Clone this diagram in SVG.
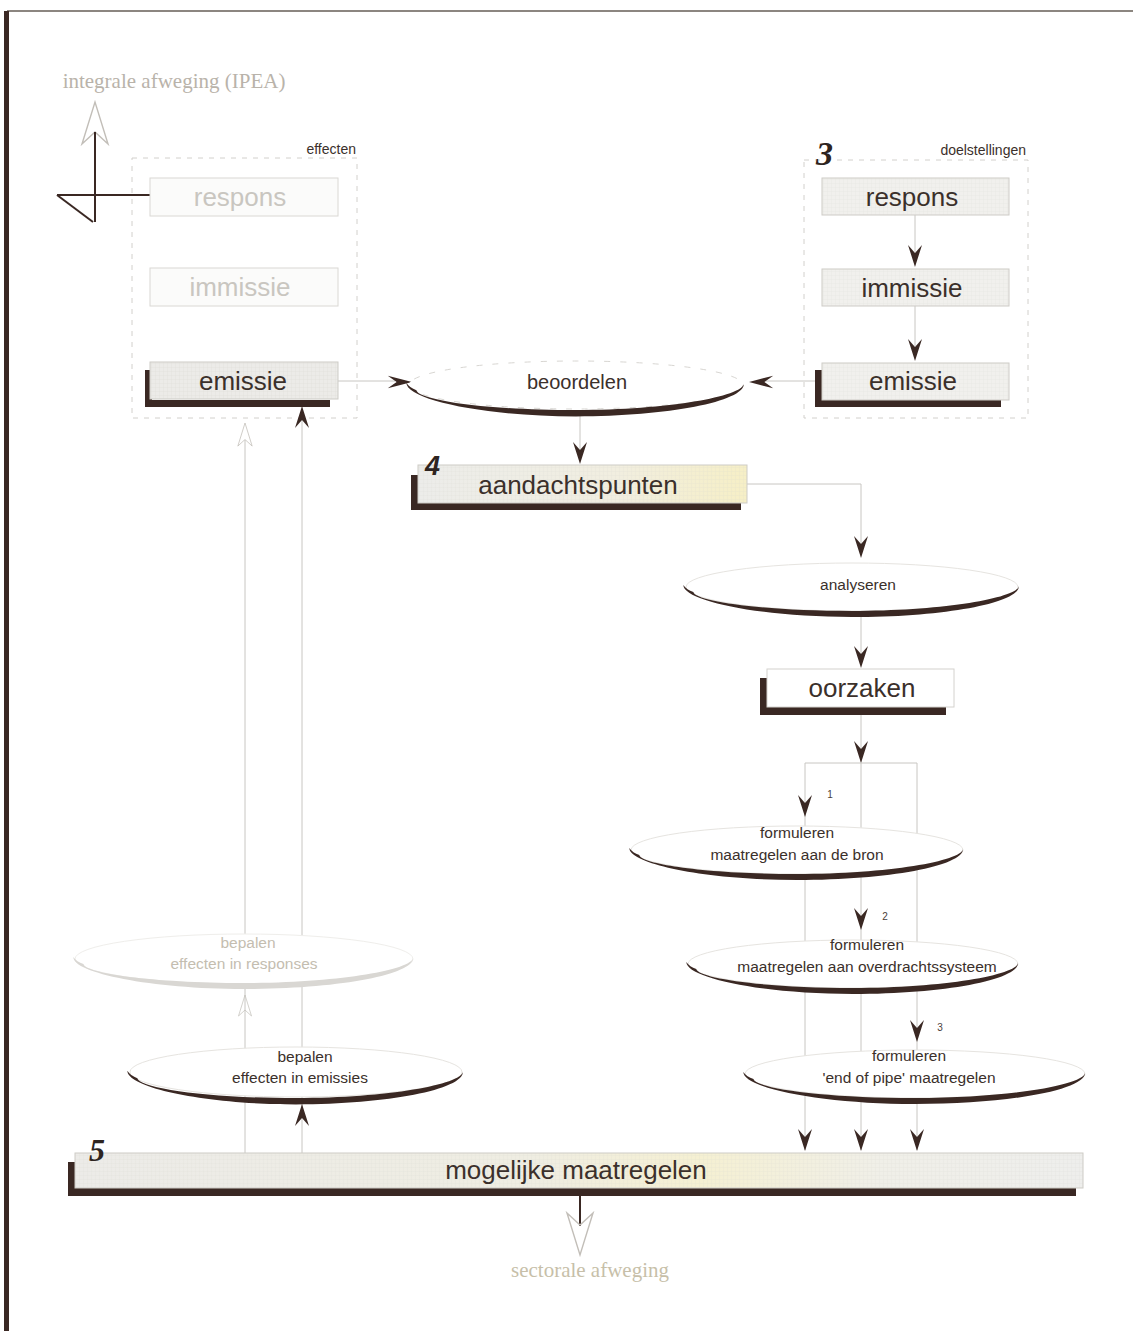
<svg xmlns="http://www.w3.org/2000/svg" xmlns:xlink="http://www.w3.org/1999/xlink" width="1133" height="1331" viewBox="0 0 1133 1331">
  <style>
    .box { stroke: #cdcbc6; stroke-width: 1; }
    .faint { fill: #ffffff; stroke: #e6e4e0; stroke-width: 1; }
    .shadow { fill: #3a2823; }
    .lbl { font-family: "Liberation Sans", Arial, sans-serif; fill: #3b302b; text-anchor: middle; }
    .big { font-size: 26px; }
    .mid { font-size: 15.5px; }
    .ghost { fill: #c9c6c0; }
    .serif { font-family: "Liberation Serif", "Times New Roman", serif; fill: #b9b3aa; text-anchor: middle; font-size: 21px; }
    .num { font-family: "Liberation Serif", "Times New Roman", serif; font-weight: bold; font-style: italic; fill: #2e2420; }
    .wire { stroke: #c8c6c2; stroke-width: 1; fill: none; }
    .dark { stroke: #3a2823; stroke-width: 2; fill: none; }
    .group { fill: none; stroke: #d2d0cc; stroke-width: 1; stroke-dasharray: 5 6; }
    .cres { fill: #3a2823; }
    .ghostcres { fill: #d9d7d3; }
    .idx { font-family: "Liberation Sans", Arial, sans-serif; font-size: 10px; fill: #4a403a; text-anchor: middle; }
  </style>
  <defs>
    <pattern id="grid" width="4" height="4" patternUnits="userSpaceOnUse">
      <path d="M4,0 V4 M0,4 H4" stroke="#d4d2cc" stroke-width="0.6" fill="none"/>
    </pattern>
    <linearGradient id="gAand" x1="0" y1="0" x2="1" y2="0">
      <stop offset="0" stop-color="#ececea"/>
      <stop offset="0.6" stop-color="#f1eee0"/>
      <stop offset="1" stop-color="#f6efc6"/>
    </linearGradient>
    <linearGradient id="gMog" x1="0" y1="0" x2="1" y2="0">
      <stop offset="0" stop-color="#ecebe8"/>
      <stop offset="0.45" stop-color="#efede2"/>
      <stop offset="0.62" stop-color="#f5f0d2"/>
      <stop offset="0.8" stop-color="#f0efe8"/>
      <stop offset="1" stop-color="#eeeeec"/>
    </linearGradient>
    <!-- solid notched arrowhead, tip at origin, pointing down -->
    <path id="ah" d="M0,0 L-7,-22 L0,-14 L7,-22 Z" fill="#3a2823"/>
    <!-- open outline arrowhead, tip at origin, pointing down -->
    <path id="hah" d="M-13,-42 L0,0 L13,-42 L0,-30 Z" fill="none" stroke="#c2beb8" stroke-width="1.4"/>
    <!-- lower shading crescent of an oval, half-width 100, left end at origin height -->
    <path id="cres" d="M-101,-4 C-101,12 -55,28 0,28 C55,28 100,14 100,-3 C99,9 55,22 0,22 C-55,22 -94,12 -95,3 Q-99,1 -101,-4 Z"/>
  </defs>

  <rect width="1133" height="1331" fill="#ffffff"/>

  <!-- page frame -->
  <line x1="7" y1="11" x2="1133" y2="11" stroke="#8c8680" stroke-width="2"/>
  <rect x="4" y="11" width="5" height="1320" fill="#3a2823"/>

  <!-- group frames -->
  <g id="grp-effecten">
    <rect class="group" x="132" y="158" width="225" height="260"/>
    <text class="lbl" x="356" y="154" font-size="14" style="text-anchor:end">effecten</text>
  </g>
  <g id="grp-doelstellingen">
    <rect class="group" x="804" y="160" width="224" height="258"/>
    <text class="lbl" x="1026" y="155" font-size="14" style="text-anchor:end">doelstellingen</text>
    <text class="num" x="816" y="165" font-size="34">3</text>
  </g>

  <!-- connectors -->
  <g id="connectors">
    <!-- upward feed to IPEA -->
    <use href="#hah" transform="translate(95,102) rotate(180)"/>
    <line class="dark" x1="95" y1="132" x2="95" y2="222"/>
    <line class="dark" x1="57" y1="195" x2="152" y2="195"/>
    <line class="dark" x1="57" y1="195" x2="93" y2="222"/>

    <!-- doelstellingen chain -->
    <line class="wire" x1="915" y1="215" x2="915" y2="252"/>
    <use href="#ah" transform="translate(915,267)"/>
    <line class="wire" x1="915" y1="306" x2="915" y2="346"/>
    <use href="#ah" transform="translate(915,361)"/>

    <!-- into beoordelen -->
    <line class="wire" x1="338" y1="381" x2="395" y2="381"/>
    <use href="#ah" transform="translate(412,382) rotate(-90) scale(0.9,1.1)"/>
    <line class="wire" x1="765" y1="381" x2="816" y2="381"/>
    <use href="#ah" transform="translate(749,382) rotate(90) scale(0.9,1.1)"/>

    <!-- beoordelen to aandachtspunten -->
    <line class="wire" x1="580" y1="414" x2="580" y2="450"/>
    <use href="#ah" transform="translate(580,464)"/>

    <!-- aandachtspunten to analyseren -->
    <polyline class="wire" points="747,484 861,484 861,545"/>
    <use href="#ah" transform="translate(861,558)"/>

    <!-- analyseren to oorzaken -->
    <line class="wire" x1="861" y1="615" x2="861" y2="655"/>
    <use href="#ah" transform="translate(861,668)"/>

    <!-- oorzaken to the three routes -->
    <line class="wire" x1="861" y1="715" x2="861" y2="1150"/>
    <use href="#ah" transform="translate(861,763)"/>
    <polyline class="wire" points="805,1150 805,763 917,763 917,1150"/>
    <use href="#ah" transform="translate(805,817)"/>
    <use href="#ah" transform="translate(861,930)"/>
    <use href="#ah" transform="translate(917,1042)"/>
    <use href="#ah" transform="translate(805,1151)"/>
    <use href="#ah" transform="translate(861,1151)"/>
    <use href="#ah" transform="translate(917,1151)"/>

    <!-- effect lines on the left -->
    <line class="wire" x1="245" y1="1153" x2="245" y2="440"/>
    <use href="#hah" transform="translate(245,423) rotate(180) scale(0.55)"/>
    <use href="#hah" transform="translate(245,995) rotate(180) scale(0.5)"/>
    <line class="wire" x1="302" y1="1153" x2="302" y2="420"/>
    <use href="#ah" transform="translate(302,1104) rotate(180)"/>
    <use href="#ah" transform="translate(302,406) rotate(180)"/>

    <!-- down to sectoral weighing -->
    <line class="dark" x1="580" y1="1195" x2="580" y2="1226"/>
    <use href="#hah" transform="translate(580,1255)"/>
  </g>

  <!-- loose labels -->
  <text class="serif" x="174" y="88">integrale afweging (IPEA)</text>
  <text class="serif" x="590" y="1277" style="fill:#c7bfa9">sectorale afweging</text>

  <!-- effecten column (faded) -->
  <g id="eff-respons">
    <rect x="150" y="178" width="188" height="38" fill="#fbfbfa" stroke="#dad8d4"/>
    <text class="lbl big ghost" x="240" y="206">respons</text>
  </g>
  <g id="eff-immissie">
    <rect x="150" y="268" width="188" height="38" fill="#fbfbfa" stroke="#dad8d4"/>
    <text class="lbl big ghost" x="240" y="296">immissie</text>
  </g>
  <g id="eff-emissie">
    <rect class="shadow" x="145" y="370" width="7" height="37"/>
    <rect class="shadow" x="145" y="400" width="185" height="7"/>
    <rect class="box" x="150" y="362" width="188" height="37" fill="#ecebe8"/>
    <rect x="150" y="362" width="188" height="37" fill="url(#grid)" opacity="0.6"/>
    <text class="lbl big" x="243" y="390">emissie</text>
  </g>

  <!-- doelstellingen column -->
  <g id="doel-respons">
    <rect class="box" x="822" y="178" width="187" height="37" fill="#f1f0ed"/>
    <rect x="822" y="178" width="187" height="37" fill="url(#grid)" opacity="0.4"/>
    <text class="lbl big" x="912" y="206">respons</text>
  </g>
  <g id="doel-immissie">
    <rect class="box" x="822" y="269" width="187" height="37" fill="#f1f0ed"/>
    <rect x="822" y="269" width="187" height="37" fill="url(#grid)" opacity="0.4"/>
    <text class="lbl big" x="912" y="297">immissie</text>
  </g>
  <g id="doel-emissie">
    <rect class="shadow" x="815" y="370" width="8" height="37"/>
    <rect class="shadow" x="815" y="400" width="186" height="7"/>
    <rect class="box" x="822" y="363" width="187" height="37" fill="#f1f0ed"/>
    <rect x="822" y="363" width="187" height="37" fill="url(#grid)" opacity="0.4"/>
    <text class="lbl big" x="913" y="390">emissie</text>
  </g>

  <!-- beoordelen -->
  <g id="beoordelen">
    <ellipse cx="576" cy="385" rx="167" ry="24" fill="#ffffff" stroke="#d8d6d2" stroke-dasharray="6 10"/>
    <use href="#cres" class="cres" transform="translate(576,387) scale(1.68,1.05)"/>
    <text class="lbl" x="577" y="389" font-size="20">beoordelen</text>
  </g>

  <!-- aandachtspunten -->
  <g id="aandachtspunten">
    <rect class="shadow" x="411" y="475" width="8" height="35"/>
    <rect class="shadow" x="411" y="503" width="330" height="7"/>
    <rect class="box" x="418" y="465" width="329" height="38" fill="url(#gAand)"/>
    <rect x="418" y="465" width="329" height="38" fill="url(#grid)" opacity="0.45"/>
    <text class="lbl big" x="578" y="494">aandachtspunten</text>
    <text x="425" y="475" font-family="Liberation Sans, Arial, sans-serif" font-weight="bold" font-style="italic" font-size="27" fill="#2e2420">4</text>
  </g>

  <!-- analyseren -->
  <g id="analyseren">
    <ellipse class="faint" cx="852" cy="587" rx="166" ry="24"/>
    <use href="#cres" class="cres" transform="translate(852,589) scale(1.67,1)"/>
    <text class="lbl mid" x="858" y="590">analyseren</text>
  </g>

  <!-- oorzaken -->
  <g id="oorzaken">
    <rect class="shadow" x="760" y="678" width="8" height="37"/>
    <rect class="shadow" x="760" y="707" width="186" height="8"/>
    <rect x="767" y="669" width="187" height="38" fill="#ffffff" stroke="#d4d2ce"/>
    <text class="lbl big" x="862" y="697">oorzaken</text>
  </g>

  <!-- formulation routes -->
  <g id="route1">
    <ellipse class="faint" cx="797" cy="850" rx="166" ry="24"/>
    <use href="#cres" class="cres" transform="translate(797,852) scale(1.66,1)"/>
    <text class="lbl mid" x="797" y="838">formuleren</text>
    <text class="lbl mid" x="797" y="860">maatregelen aan de bron</text>
    <text class="idx" x="830" y="798">1</text>
  </g>
  <g id="route2">
    <ellipse class="faint" cx="853" cy="964" rx="165" ry="24"/>
    <use href="#cres" class="cres" transform="translate(853,966) scale(1.65,1)"/>
    <text class="lbl mid" x="867" y="950">formuleren</text>
    <text class="lbl mid" x="867" y="972">maatregelen aan overdrachtssysteem</text>
    <text class="idx" x="885" y="920">2</text>
  </g>
  <g id="route3">
    <ellipse class="faint" cx="915" cy="1074" rx="170" ry="24"/>
    <use href="#cres" class="cres" transform="translate(915,1076) scale(1.7,1)"/>
    <text class="lbl mid" x="909" y="1061">formuleren</text>
    <text class="lbl mid" x="909" y="1083">'end of pipe' maatregelen</text>
    <text class="idx" x="940" y="1031">3</text>
  </g>

  <!-- effect determination -->
  <g id="bepalen-responsen">
    <ellipse cx="244" cy="959" rx="169" ry="25" fill="#ffffff" stroke="#efeeeb"/>
    <use href="#cres" class="ghostcres" transform="translate(244,961) scale(1.69,1)"/>
    <text class="lbl mid" x="248" y="948" style="fill:#c4bdb0">bepalen</text>
    <text class="lbl mid" x="244" y="969" style="fill:#c4bdb0">effecten in responses</text>
  </g>
  <g id="bepalen-emissies">
    <ellipse class="faint" cx="296" cy="1072" rx="166" ry="25"/>
    <use href="#cres" class="cres" transform="translate(296,1075) scale(1.67,1.05)"/>
    <text class="lbl mid" x="305" y="1062">bepalen</text>
    <text class="lbl mid" x="300" y="1083">effecten in emissies</text>
  </g>

  <!-- possible measures -->
  <g id="mogelijke-maatregelen">
    <rect class="shadow" x="68" y="1162" width="8" height="34"/>
    <rect class="shadow" x="68" y="1188" width="1008" height="8"/>
    <rect class="box" x="75" y="1153" width="1008" height="35" fill="url(#gMog)"/>
    <rect x="75" y="1153" width="1008" height="35" fill="url(#grid)" opacity="0.45"/>
    <text class="lbl big" x="576" y="1179">mogelijke maatregelen</text>
    <text class="num" x="89" y="1161" font-size="32">5</text>
  </g>
</svg>
